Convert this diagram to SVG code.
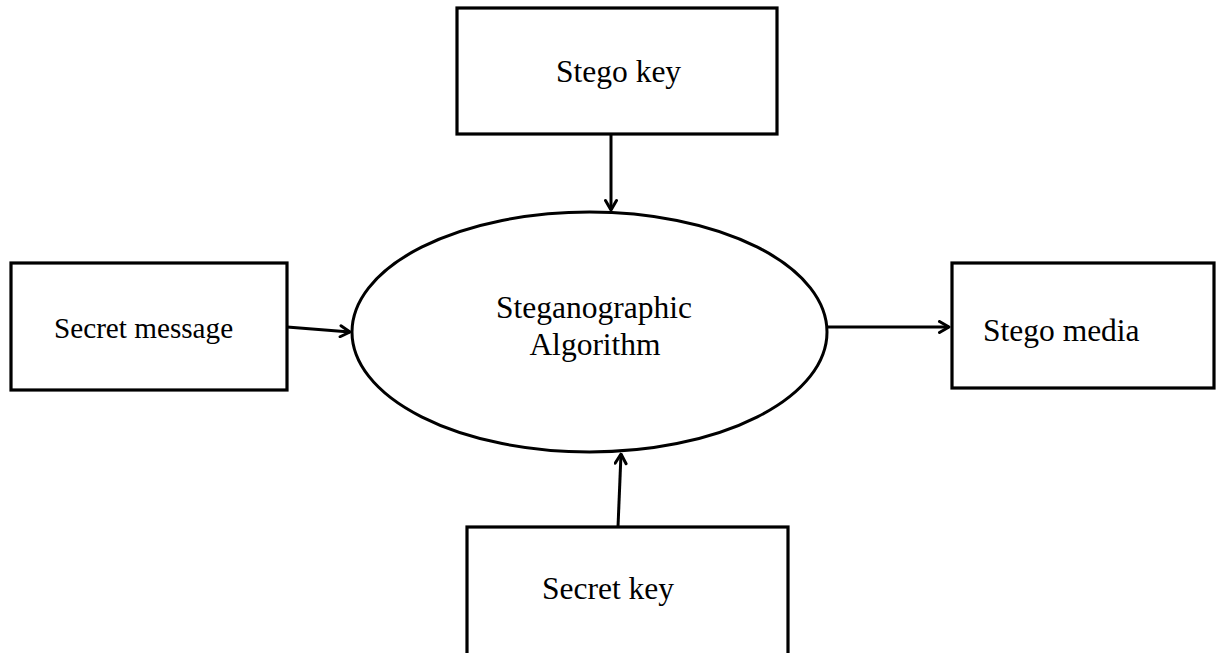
<svg xmlns="http://www.w3.org/2000/svg" width="1216" height="653" viewBox="0 0 1216 653">
  <style>
    .box { fill: #ffffff; stroke: #000000; stroke-width: 3.2; }
    .oval { fill: #ffffff; stroke: #000000; stroke-width: 3; }
    .label { font-family: "Liberation Serif", "Times New Roman", serif; font-size: 31.5px; fill: #000000; }
    .small { font-size: 29.2px; }
    .wire { fill: none; stroke: #000000; stroke-width: 3; }
  </style>
  <defs>
    <marker id="chevron" viewBox="0 0 14 14" refX="12.5" refY="7" markerWidth="14" markerHeight="14" markerUnits="userSpaceOnUse" orient="auto">
      <path d="M3,1.5 L12.5,7 L3,12.5" fill="none" stroke="#000000" stroke-width="3" stroke-linecap="round" stroke-linejoin="round"/>
    </marker>
  </defs>
  <rect x="0" y="0" width="1216" height="653" fill="#ffffff"/>

  <g id="stego-key">
    <rect class="box" x="457" y="8" width="320" height="126"/>
    <text class="label" x="556" y="82">Stego key</text>
  </g>

  <g id="secret-message">
    <rect class="box" x="11" y="263" width="276" height="127"/>
    <text class="label small" x="54" y="338">Secret message</text>
  </g>

  <g id="stego-media">
    <rect class="box" x="952" y="263" width="262" height="125"/>
    <text class="label" x="983" y="341">Stego media</text>
  </g>

  <g id="secret-key">
    <rect class="box" x="467" y="527" width="321" height="140"/>
    <text class="label" x="542" y="599">Secret key</text>
  </g>

  <g id="algorithm">
    <ellipse class="oval" cx="589.5" cy="332" rx="237.5" ry="120"/>
    <text class="label" x="594" y="318" text-anchor="middle">Steganographic</text>
    <text class="label" x="595" y="355" text-anchor="middle">Algorithm</text>
  </g>

  <g id="connectors">
    <path class="wire" d="M611,134 L611,210" marker-end="url(#chevron)"/>
    <path class="wire" d="M287,327 L350,332" marker-end="url(#chevron)"/>
    <path class="wire" d="M827,327 L949,327" marker-end="url(#chevron)"/>
    <path class="wire" d="M618,527 L621,454" marker-end="url(#chevron)"/>
  </g>
</svg>
